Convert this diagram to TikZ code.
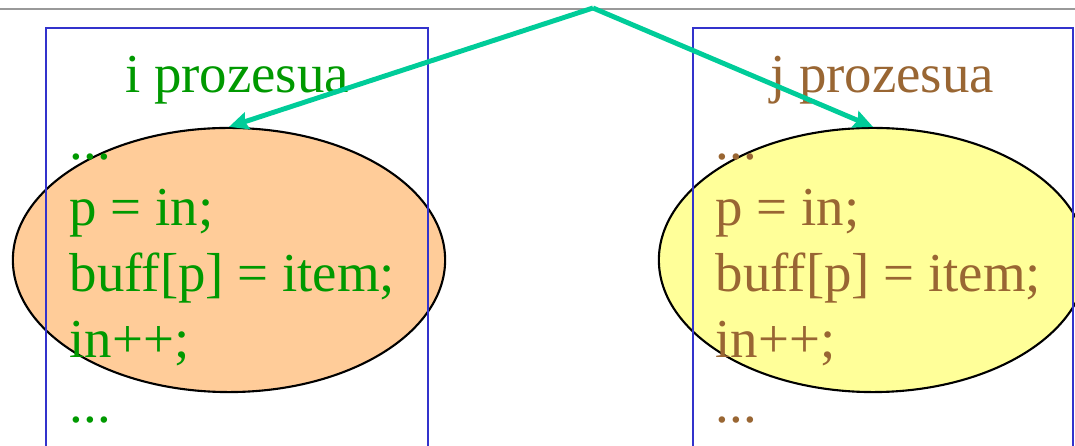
\documentclass[tikz,border=0pt]{standalone}
\usepackage{fontspec}
\setmainfont{Liberation Serif}
\usetikzlibrary{shapes.geometric, arrows.meta}

\definecolor{procgreen}{HTML}{009900}
\definecolor{procbrown}{HTML}{996633}
\definecolor{flowteal}{HTML}{00CC99}
\definecolor{boxblue}{HTML}{3333CC}
\definecolor{peach}{HTML}{FFCC99}
\definecolor{paleyellow}{HTML}{FFFF99}

\begin{document}
\begin{tikzpicture}[x=0.01cm, y=-0.01cm,
    crit/.style={draw=black, line width=0.6pt, ellipse, inner sep=0pt,
        minimum height=2.64cm},
    procbox/.style={draw=boxblue, line width=0.6pt},
    code/.style={anchor=base west, align=left, inner sep=0pt,
        font=\fontsize{15.6}{18.7}\selectfont},
    title/.style={anchor=base, inner sep=0pt,
        font=\fontsize{15.6}{18.7}\selectfont},
    flow/.style={draw=flowteal, line width=1.4pt,
        -{Stealth[length=5.5pt, width=5pt, inset=0.8pt]}}]
    \useasboundingbox (0,0) rectangle (1075,446);

    % top rule
    \draw[gray!80, line width=0.6pt] (0,9) -- (1075,9);

    % critical sections
    \node[crit, fill=peach, minimum width=4.32cm] (lcrit) at (229,260) {};
    \node[crit, fill=paleyellow, minimum width=4.28cm] (rcrit) at (873,260) {};

    % process columns
    \draw[procbox] (46,446) |- (428,28) -- (428,446);
    \draw[procbox] (693,446) |- (1073,28) -- (1073,446);

    \node[title, text=procgreen] (ltitle) at (237,93) {i prozesua};
    \node[title, text=procbrown] (rtitle) at (882,93) {j prozesua};

    % base of a multi-line node = last line
    \node[code, text=procgreen] (lcode) at (69,423)
        {...\\ p = in;\\ buff[p] = item;\\ in++;\\ ...};
    \node[code, text=procbrown] (rcode) at (715,423)
        {...\\ p = in;\\ buff[p] = item;\\ in++;\\ ...};

    % arrows
    \coordinate (apex) at (593,8);
    \draw[flow] (apex) -- (lcrit.north);
    \draw[flow] (apex) -- (rcrit.north);
\end{tikzpicture}
\end{document}
